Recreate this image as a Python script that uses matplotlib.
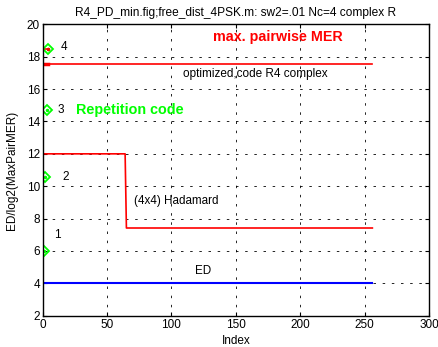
import matplotlib
matplotlib.use("Agg")
import matplotlib.pyplot as plt

# Data
opt_x = [0, 256]
opt_y = [17.55, 17.55]
had_x = [0, 64, 65, 256]
had_y = [12.0, 12.0, 7.42, 7.42]
ed_x = [0, 256]
ed_y = [4.05, 4.05]
rep_x = [1, 2, 3, 4]
rep_y = [6.0, 10.6, 14.7, 18.5]
rep_labels = ["1", "2", "3", "4"]

plt.rcParams['font.family'] = ['Liberation Sans', 'DejaVu Sans']
fig = plt.figure(figsize=(4.38, 3.47), dpi=100)
ax = fig.add_axes([0.0975, 0.090, 0.882, 0.840])

ax.plot(opt_x, opt_y, color='red', lw=1.2)
ax.plot(had_x, had_y, color='red', lw=1.2)
ax.plot(ed_x, ed_y, color='#0000ff', lw=1.5)
ax.plot([0, 4], [18.5, 18.5], color='red', lw=1.2)
ax.plot([0, 4], [17.55, 17.55], color='red', lw=2.5)
ax.plot(rep_x, rep_y, linestyle='none', marker='D', markersize=5,
        markerfacecolor='none', markeredgecolor='#00ff00', markeredgewidth=1.3)
ax.plot(rep_x, rep_y, linestyle='none', marker='.', markersize=3, color='#00ff00')
ax.plot([4], [18.5], linestyle='none', marker='.', markersize=3, color='red')

offs = [(8.5, 7.0), (15.5, 10.6), (11.5, 14.7), (14, 18.6)]
for (tx, ty), lab in zip(offs, rep_labels):
    ax.text(tx, ty, lab, fontsize=8.5, ha='left', va='center')

ax.text(25.5, 14.7, "Repetition code", color='#00ff00', fontsize=10.4, fontweight='bold',
        ha='left', va='center')
ax.text(132, 19.2, "max. pairwise MER", color='red', fontsize=10.3, fontweight='bold',
        ha='left', va='center')
ax.text(109, 16.9, "optimized,code R4 complex", fontsize=8.5, ha='left', va='center')
ax.text(71, 9.1, "(4x4) Hadamard", fontsize=8.4, ha='left', va='center')
ax.text(118.5, 4.75, "ED", fontsize=8.4, ha='left', va='center')

ax.set_xlim(0, 300)
ax.set_ylim(2, 20)
ax.set_xticks(range(0, 301, 50))
ax.set_yticks(range(2, 21, 2))
ax.tick_params(direction='in', labelsize=8.5, length=3, top=True, right=True, pad=2)
ax.grid(True, color='black', linestyle=(0, (3, 8)), linewidth=0.6)
for s in ax.spines.values():
    s.set_linewidth(1.0)
ax.set_xlabel("Index", fontsize=8.5, labelpad=3)
ax.set_ylabel("ED/log2(MaxPairMER)", fontsize=8.5, labelpad=6)
ax.set_title("R4_PD_min.fig;free_dist_4PSK.m: sw2=.01 Nc=4 complex R", fontsize=8.6, pad=6)

fig.savefig("out.png", dpi=100)
